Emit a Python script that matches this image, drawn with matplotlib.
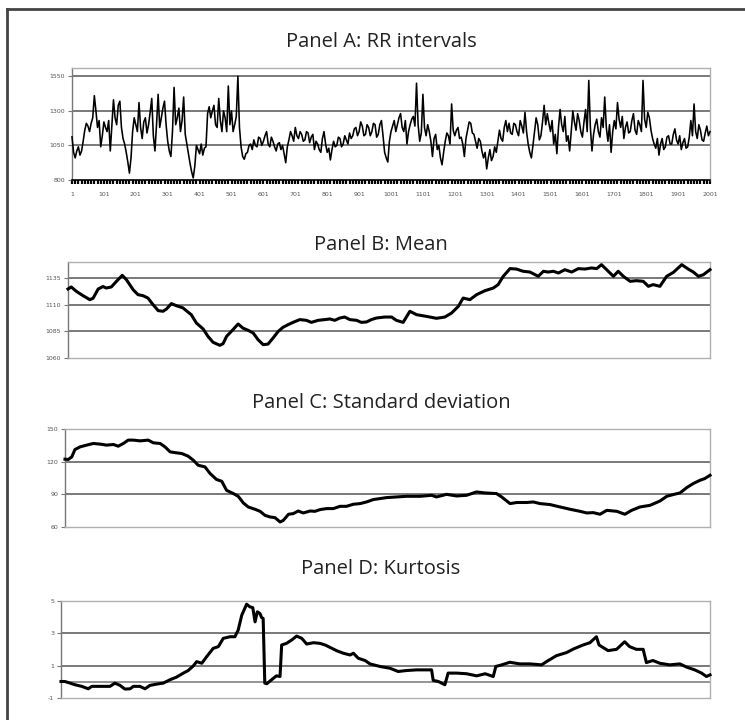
import matplotlib
matplotlib.use("Agg")
import matplotlib.pyplot as plt
from matplotlib.lines import Line2D
import numpy as np

# ---------------- data ----------------
titles = ["Panel A: RR intervals", "Panel B: Mean", "Panel C: Standard deviation", "Panel D: Kurtosis"]

# RR intervals read at samples 1, 11, 21, ... (main) and 6, 16, 26, ... (mid)
rr_main = [
    1112, 960, 1040, 1010, 1160, 1190, 1210, 1410, 1180, 1040,
    1220, 1150, 1010, 1380, 1200, 1370, 1100, 1000, 850, 1150,
    1200, 1360, 1100, 1250, 1200, 1390, 1010, 1420, 1250, 1370,
    1080, 970, 1470, 1250, 1150, 1400, 1060, 920, 815, 1050,
    990, 980, 1040, 1330, 1300, 1200, 1390, 1150, 1250, 1480,
    1300, 1200, 1550, 1040, 950, 1000, 1060, 1090, 1040, 1100,
    1080, 1150, 1040, 1080, 1010, 1070, 1050, 925, 1090, 1120,
    1180, 1100, 1130, 1090, 1140, 1110, 1020, 1060, 1000, 1150,
    1000, 945, 1080, 1050, 1100, 1060, 1090, 1140, 1120, 1180,
    1150, 1190, 1130, 1180, 1150, 1200, 1130, 1230, 1000, 930,
    1150, 1230, 1200, 1280, 1150, 1060, 1200, 1260, 1500, 1080,
    1420, 1120, 1150, 970, 1130, 1050, 910, 1080, 1120, 1350,
    1120, 1180, 1110, 970, 1160, 1210, 1130, 1030, 1080, 960,
    880, 1020, 970, 1000, 1160, 1080, 1230, 1210, 1130, 1200,
    1120, 1190, 1290, 1060, 960, 1150, 1200, 1120, 1340, 1280,
    1150, 1060, 990, 1310, 1150, 1080, 1010, 1300, 1160, 1230,
    1110, 1310, 1520, 1010, 1200, 1150, 1250, 1400, 1080, 1000,
    1230, 1360, 1180, 1100, 1220, 1150, 1280, 1130, 1200, 1520,
    1180, 1250, 1100, 1030, 980, 1100, 1040, 1120, 1060, 1170,
    1060, 1020, 1100, 1040, 1230, 1350, 1100, 1160, 1080, 1190, 1150,
]
rr_mid = [
    1000, 1010, 980, 1080, 1210, 1150, 1250, 1300, 1230, 1120,
    1180, 1230, 1200, 1250, 1340, 1180, 1060, 930, 960, 1250,
    1150, 1180, 1220, 1140, 1290, 1120, 1200, 1180, 1320, 1200,
    1010, 1150, 1200, 1320, 1230, 1130, 990, 860, 900, 1020,
    1060, 1030, 1280, 1250, 1340, 1180, 1230, 1300, 1150, 1200,
    1150, 1260, 1180, 970, 990, 1050, 1020, 1050, 1110, 1050,
    1120, 1060, 1110, 1040, 1060, 1020, 990, 1040, 1150, 1080,
    1120, 1150, 1080, 1150, 1070, 1130, 1080, 1020, 1100, 1060,
    1030, 1020, 1040, 1110, 1040, 1120, 1060, 1100, 1170, 1120,
    1220, 1120, 1200, 1120, 1210, 1110, 1200, 1120, 960, 1080,
    1190, 1150, 1250, 1180, 1230, 1150, 1240, 1190, 1200, 1140,
    1180, 1200, 1080, 1100, 1020, 960, 1000, 1140, 1060, 1160,
    1160, 1100, 1060, 1100, 1220, 1140, 1080, 1100, 1010, 1000,
    960, 940, 1040, 1080, 1100, 1180, 1150, 1140, 1210, 1150,
    1230, 1140, 1150, 1000, 1050, 1250, 1090, 1220, 1200, 1210,
    1230, 1130, 1180, 1200, 1260, 1120, 1150, 1220, 1280, 1150,
    1220, 1150, 1180, 1130, 1240, 1110, 1180, 1180, 1200, 1150,
    1170, 1240, 1260, 1180, 1140, 1230, 1160, 1230, 1150, 1240,
    1290, 1160, 1060, 1100, 1060, 1020, 1110, 1060, 1130, 1090,
    1120, 1070, 1030, 1110, 1120, 1150, 1200, 1090, 1140, 1120,
]
rr_step = 10

mean_index = [1, 11, 27, 48, 69, 79, 95, 110, 120, 136, 152, 170, 183, 204, 219, 235, 250,
              266, 282, 297, 308, 323, 339, 359, 375, 385, 401, 422, 437, 453, 474, 484, 495,
              515, 531, 546, 562, 578, 593, 609, 624, 640, 656, 671, 687, 702, 723, 744, 759,
              780, 801, 817, 832, 848, 863, 879, 900, 915, 931, 946, 962, 988, 1009, 1024,
              1045, 1066, 1087, 1118, 1149, 1175, 1196, 1217, 1232, 1253, 1274, 1300, 1326,
              1341, 1357, 1378, 1398, 1419, 1440, 1466, 1482, 1497, 1513, 1529, 1549, 1570,
              1591, 1611, 1632, 1648, 1663, 1679, 1700, 1715, 1731, 1752, 1772, 1793, 1809,
              1824, 1845, 1866, 1887, 1913, 1933, 1949, 1965, 1980, 2001]
mean_values = [1124.7, 1126.6, 1122.5, 1118.4, 1114.7, 1116.0, 1124.7, 1127.0, 1125.6, 1126.6,
               1131.9, 1137.5, 1133.4, 1124.0, 1119.4, 1118.4, 1116.2, 1110.0, 1104.4, 1103.8,
               1106.0, 1111.0, 1109.0, 1107.0, 1103.0, 1100.6, 1092.8, 1087.2, 1080.3, 1074.7,
               1071.9, 1073.4, 1080.3, 1086.6, 1091.9, 1088.0, 1086.0, 1083.4, 1077.2, 1072.5,
               1073.0, 1078.8, 1085.0, 1088.8, 1091.3, 1093.4, 1096.0, 1095.3, 1093.4, 1095.3,
               1096.0, 1096.6, 1095.3, 1097.5, 1098.4, 1096.0, 1095.3, 1093.4, 1093.8, 1096.0,
               1097.5, 1098.4, 1098.4, 1095.3, 1093.4, 1103.8, 1100.6, 1099.0, 1097.2, 1098.4,
               1102.2, 1108.4, 1116.2, 1114.7, 1119.4, 1123.1, 1125.6, 1128.8, 1136.6, 1143.8,
               1143.4, 1141.3, 1140.6, 1136.6, 1141.3, 1140.6, 1141.3, 1139.7, 1142.8, 1140.6,
               1143.8, 1143.4, 1144.4, 1143.8, 1147.5, 1142.8, 1136.6, 1141.3, 1136.6, 1131.9,
               1132.5, 1131.9, 1127.2, 1128.8, 1127.2, 1136.6, 1140.3, 1147.5, 1143.4, 1140.6,
               1136.6, 1138.0, 1142.8]

sd_index = [1, 11, 22, 32, 48, 68, 89, 110, 130, 151, 166, 182, 197, 213, 234, 259, 275, 296,
            311, 327, 347, 363, 383, 399, 414, 435, 451, 471, 487, 502, 523, 538, 554, 569,
            590, 606, 621, 637, 652, 668, 678, 694, 709, 724, 740, 761, 776, 792, 812, 833,
            854, 874, 895, 916, 936, 957, 998, 1029, 1060, 1102, 1138, 1153, 1184, 1215,
            1246, 1277, 1303, 1339, 1355, 1381, 1402, 1433, 1453, 1474, 1505, 1536, 1567,
            1598, 1619, 1639, 1660, 1681, 1712, 1737, 1758, 1784, 1815, 1846, 1867, 1887,
            1908, 1929, 1949, 1970, 1985, 2001]
sd_values = [122.3, 122.0, 124.4, 131.2, 133.6, 135.2, 136.7, 136.1, 135.2, 135.8, 134.2,
             136.7, 139.8, 139.8, 139.1, 139.8, 137.3, 136.7, 133.6, 129.0, 128.1, 127.5,
             125.0, 121.3, 116.7, 115.2, 109.1, 103.6, 102.0, 93.7, 90.7, 88.2, 82.1, 78.4,
             76.3, 74.4, 70.7, 69.2, 68.6, 64.6, 66.1, 71.7, 72.3, 74.7, 72.9, 74.7, 74.4,
             76.0, 76.9, 76.9, 79.0, 79.0, 80.9, 81.5, 83.0, 85.2, 87.0, 87.6, 88.2, 88.2,
             89.1, 87.6, 90.0, 88.5, 89.1, 92.2, 91.3, 90.7, 87.6, 81.5, 82.5, 82.5, 83.0,
             81.5, 80.6, 78.4, 76.3, 74.4, 72.9, 73.2, 71.7, 75.3, 74.4, 71.7, 75.3, 78.4,
             79.9, 83.9, 88.2, 89.8, 91.3, 96.2, 99.9, 102.9, 104.5, 107.5]

kurt_index = [1, 13, 29, 44, 65, 85, 96, 121, 152, 167, 183, 198, 214, 224, 244, 260, 275,
              296, 316, 337, 357, 378, 393, 409, 419, 435, 450, 470, 486, 501, 522, 537, 547,
              558, 573, 583, 592, 599, 606, 614, 619, 624, 629, 635, 650, 665, 676, 681, 696,
              712, 727, 743, 758, 779, 799, 815, 830, 850, 871, 892, 902, 917, 938, 953, 984,
              1015, 1040, 1066, 1097, 1143, 1148, 1164, 1184, 1194, 1220, 1251, 1282, 1308,
              1333, 1341, 1359, 1384, 1415, 1446, 1482, 1497, 1528, 1559, 1580, 1610, 1631,
              1651, 1659, 1687, 1713, 1738, 1753, 1774, 1795, 1805, 1825, 1846, 1877, 1908,
              1929, 1954, 1975, 1990, 2001]
kurt_values = [0.02, 0.02, -0.08, -0.18, -0.28, -0.43, -0.28, -0.28, -0.28, -0.08, -0.22,
               -0.45, -0.43, -0.28, -0.28, -0.43, -0.22, -0.14, -0.08, 0.13, 0.29, 0.54, 0.70,
               0.99, 1.25, 1.15, 1.56, 2.07, 2.18, 2.69, 2.79, 2.79, 3.20, 4.12, 4.80, 4.64,
               4.59, 3.71, 4.33, 4.23, 3.98, 3.92, -0.08, -0.12, 0.13, 0.37, 0.33, 2.28, 2.38,
               2.59, 2.83, 2.69, 2.34, 2.42, 2.38, 2.28, 2.13, 1.93, 1.77, 1.66, 1.77, 1.46,
               1.32, 1.11, 0.95, 0.84, 0.64, 0.70, 0.74, 0.74, 0.09, 0.02, -0.18, 0.54, 0.54,
               0.50, 0.37, 0.50, 0.33, 0.95, 1.05, 1.21, 1.11, 1.11, 1.05, 1.25, 1.62, 1.81,
               2.03, 2.28, 2.42, 2.79, 2.28, 1.93, 2.01, 2.48, 2.18, 2.01, 2.01, 1.19, 1.32,
               1.15, 1.05, 1.11, 0.91, 0.74, 0.54, 0.33, 0.43]

rr_ticks = [800, 1050, 1300, 1550]
mean_ticks = [1060, 1085, 1110, 1135]
sd_ticks = [60, 90, 120, 150]
kurt_ticks = [-1, 1, 3, 5]
x_label_positions = list(range(1, 2002, 100))
x_labels = [str(v) for v in x_label_positions]

# interleave the two RR readings into one series
rr_index, rr_values = [], []
for k, v in enumerate(rr_main):
    rr_index.append(1 + k * rr_step)
    rr_values.append(v)
    if k < len(rr_mid):
        rr_index.append(1 + k * rr_step + rr_step // 2)
        rr_values.append(rr_mid[k])

# ---------------- layout ----------------
W, H = 745, 720
fig = plt.figure(figsize=(W / 100, H / 100), dpi=100)
fig.patch.set_facecolor("white")

def fx(px):
    return px / W

def fy(py):
    return 1 - py / H

def make_axes(left, right, top, bottom):
    return fig.add_axes([fx(left), fy(bottom), fx(right - left), (bottom - top) / H])

FRAME = "#b0b0b0"
GRID = "#555555"
TXT = "#222222"
TICKTXT = "#555555"

panels = [
    dict(box=(72, 710, 68, 180), x=rr_index, y=rr_values, ylim=(800, 1610), ticks=rr_ticks, lw=1.15, title_y=42),
    dict(box=(68, 710, 262, 358), x=mean_index, y=mean_values, ylim=(1060, 1150), ticks=mean_ticks, lw=2.2, title_y=245),
    dict(box=(65, 710, 429, 527), x=sd_index, y=sd_values, ylim=(60, 150), ticks=sd_ticks, lw=2.2, title_y=403),
    dict(box=(61, 710, 601, 698), x=kurt_index, y=kurt_values, ylim=(-1, 5), ticks=kurt_ticks, lw=2.2, title_y=569),
]

for i, p in enumerate(panels):
    ax = make_axes(*p["box"])
    ax.set_xlim(1, 2001)
    ax.set_ylim(*p["ylim"])
    for t in p["ticks"]:
        if t != p["ylim"][0]:
            ax.axhline(t, color=GRID, lw=1.1, zorder=1)
    if i == 3:
        ax.axhline(0, color="#777777", lw=1.1, zorder=1)
    ax.plot(p["x"], p["y"], color="black", lw=p["lw"], solid_joinstyle="round", zorder=3, clip_on=False)
    for s in ax.spines.values():
        s.set_color(FRAME)
        s.set_linewidth(1.0)
    ax.spines["left"].set_color("#777777")
    ax.set_yticks(p["ticks"])
    ax.set_yticklabels([str(t) for t in p["ticks"]], fontsize=4.5, color=TICKTXT)
    ax.tick_params(axis="y", length=3, width=0.8, color="#777777", pad=2)
    if i == 0:
        ax.spines["bottom"].set_color("black")
        ax.spines["bottom"].set_linewidth(1.2)
        ax.set_xticks(x_label_positions)
        ax.set_xticklabels(x_labels, fontsize=4.5, color=TICKTXT)
        ax.set_xticks(list(range(1, 2002, 10)), minor=True)
        ax.tick_params(axis="x", which="both", length=3, width=1.6, color="black", pad=6)
    else:
        ax.set_xticks([])
    fig.text(fx(381), fy(p["title_y"]), titles[i], ha="center", va="center",
             fontsize=14.5, color=TXT, family=["Open Sans", "DejaVu Sans"])

# outer frame (top and left edges)
fig.add_artist(Line2D([fx(7), fx(7)], [fy(9), 0], color="#444444", lw=2.0))
fig.add_artist(Line2D([fx(7), 1], [fy(9), fy(9)], color="#444444", lw=2.0))

fig.savefig("out.png", dpi=100, facecolor="white")
